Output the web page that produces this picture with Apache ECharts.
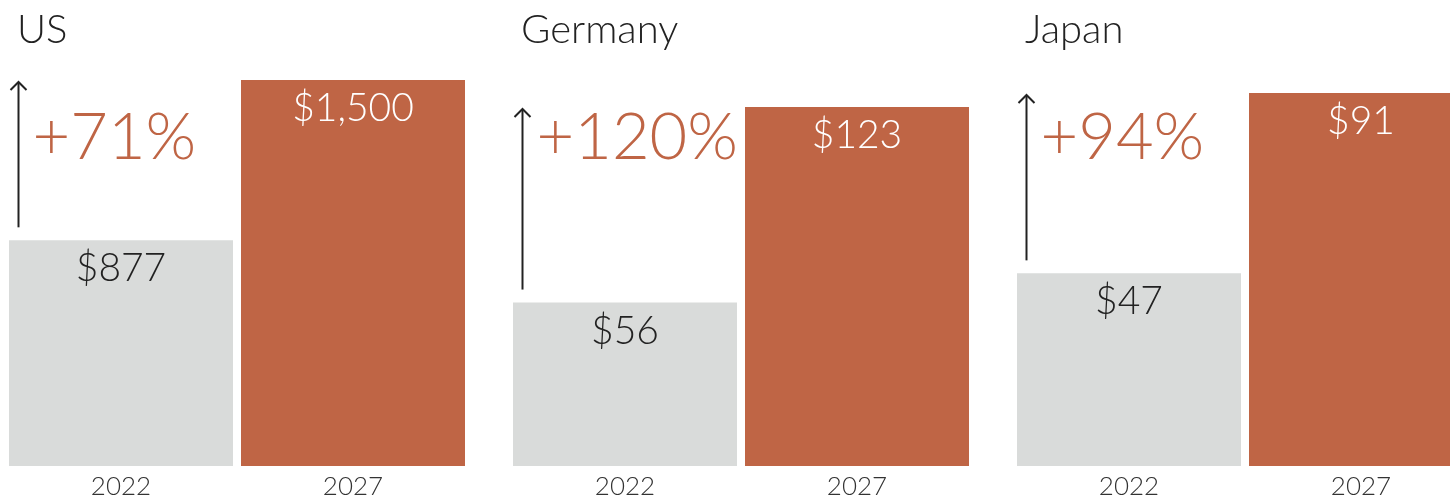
<!DOCTYPE html>
<html>
<head>
<meta charset="utf-8">
<script src="https://cdn.jsdelivr.net/npm/echarts@6/dist/echarts.min.js"></script>
<style>
  html, body { margin: 0; padding: 0; background: #ffffff; }
  #chart { width: 1450px; height: 500px; }
</style>
</head>
<body>
<div id="chart"></div>
<script>
// Market size by country, 2022 vs 2027 (billions of dollars)
const countries = ['US', 'Germany', 'Japan'];
const years = ['2022', '2027'];
const values2022 = [877, 56, 47];
const values2027 = [1500, 123, 91];

const FONT = 'Lato, "Open Sans", sans-serif';
const GRAY = '#d9dbda';
const ORANGE = '#bf6545';
const INK = '#222222';

// per-panel layout: each panel has its own scale, topped by the 2027 bar
const panelLeft = [5, 509, 1013];
const panelTop = [80, 107, 93];
const panelWidth = 464;
const plotBottom = 34;

const fmt = v => '$' + v.toLocaleString('en-US');

const grid = [], xAxis = [], yAxis = [], series = [], title = [];

countries.forEach((name, i) => {
  grid.push({ left: panelLeft[i], top: panelTop[i], width: panelWidth, bottom: plotBottom,
              containLabel: false, outerBoundsMode: 'none' });
  xAxis.push({
    gridIndex: i, type: 'category', data: years,
    axisLine: { show: false }, axisTick: { show: false }, splitLine: { show: false },
    axisLabel: { color: '#333', fontFamily: FONT, fontWeight: 300, fontSize: 26, margin: 8 }
  });
  yAxis.push({
    gridIndex: i, type: 'value', min: 0, max: values2027[i], show: false, splitLine: { show: false }
  });
  title.push({
    text: name, left: panelLeft[i] + 7, top: 5,
    textStyle: { fontFamily: FONT, fontWeight: 300, fontSize: 40, color: INK }
  });

  series.push({
    type: 'bar', xAxisIndex: i, yAxisIndex: i, barWidth: 224, silent: true,
    data: [
      { value: values2022[i], itemStyle: { color: GRAY },
        label: { color: INK } },
      { value: values2027[i], itemStyle: { color: ORANGE },
        label: { color: '#ffffff' } }
    ],
    label: {
      show: true, position: 'insideTop', distance: 9,
      fontFamily: FONT, fontWeight: 300, fontSize: 39,
      formatter: p => fmt(p.value)
    }
  });

  // growth arrow from the 2022 bar up to the 2027 level, with the percent change
  const pct = Math.round((values2027[i] / values2022[i] - 1) * 100);
  series.push({
    type: 'custom', xAxisIndex: i, yAxisIndex: i, clip: false, silent: true, z: 5,
    data: [[0, values2022[i], values2027[i], pct]],
    renderItem: (params, api) => {
      const base = api.coord([api.value(0), api.value(1)]);
      const tip = api.coord([api.value(0), api.value(2)]);
      const w = api.size([1, 0])[0];
      const x = Math.round(base[0] - w / 2 + 12.5) + 0.5;
      const y0 = base[1] - 13;
      const y1 = tip[1] + 2;
      return {
        type: 'group',
        children: [
          { type: 'line', shape: { x1: x, y1: y0, x2: x, y2: y1 },
            style: { stroke: INK, lineWidth: 2 } },
          { type: 'polyline', shape: { points: [[x - 8, y1 + 8], [x, y1], [x + 8, y1 + 8]] },
            style: { stroke: INK, lineWidth: 2, fill: null } },
          { type: 'text', x: x + 14, y: 138,
            style: { text: '+' + api.value(3) + '%', fill: ORANGE, fontFamily: FONT,
                     fontWeight: 300, fontSize: 65, verticalAlign: 'middle', align: 'left' } }
        ]
      };
    }
  });
});

const chart = echarts.init(document.getElementById('chart'), null, { renderer: 'canvas' });
chart.setOption({
  animation: false,
  backgroundColor: '#ffffff',
  title, grid, xAxis, yAxis, series
});
</script>
</body>
</html>
